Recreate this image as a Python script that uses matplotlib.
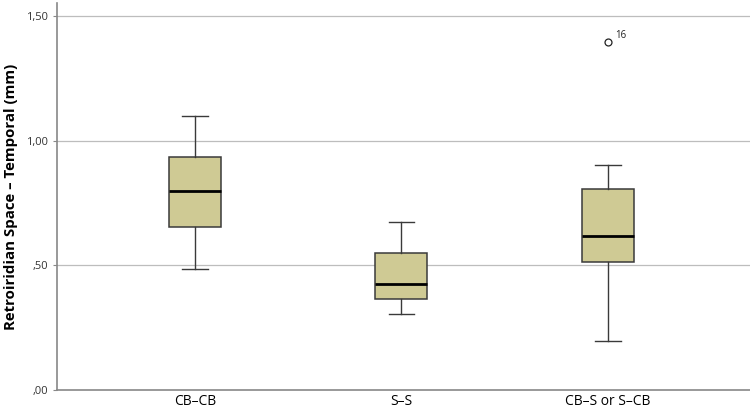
import matplotlib.pyplot as plt

plt.rcParams['font.family'] = ['Open Sans', 'DejaVu Sans']

groups = ['CB\u2013CB', 'S\u2013S', 'CB\u2013S or S\u2013CB']
medians = [0.80, 0.425, 0.618]
q1 = [0.653, 0.364, 0.512]
q3 = [0.936, 0.548, 0.806]
whisk_lo = [0.485, 0.305, 0.198]
whisk_hi = [1.100, 0.673, 0.903]
outliers = [[], [], [1.396]]
outlier_ids = [[], [], ['16']]

y_ticks = [0.0, 0.5, 1.0, 1.5]
y_tick_labels = [',00', ',50', '1,00', '1,50']

stats = []
for i in range(len(groups)):
    stats.append({'med': medians[i], 'q1': q1[i], 'q3': q3[i],
                  'whislo': whisk_lo[i], 'whishi': whisk_hi[i],
                  'fliers': outliers[i], 'label': groups[i]})

fig = plt.figure(figsize=(7.5, 4.13), dpi=100)
ax = fig.add_axes([0.076, 0.0557, 0.924, 0.937])

ax.bxp(stats, positions=[1, 2, 3], widths=0.252, patch_artist=True,
       boxprops=dict(facecolor='#CFCA94', edgecolor='#3a3a3a', linewidth=1.1),
       medianprops=dict(color='black', linewidth=2),
       whiskerprops=dict(color='#3a3a3a', linewidth=1),
       capprops=dict(color='#3a3a3a', linewidth=1),
       capwidths=0.123,
       flierprops=dict(marker='o', markerfacecolor='white', markeredgecolor='#222222',
                       markersize=5, markeredgewidth=0.9))

for i, ids in enumerate(outlier_ids):
    for val, lab in zip(outliers[i], ids):
        ax.annotate(lab, (i + 1, val), xytext=(5, 3), textcoords='offset points',
                    fontsize=7, color='#222222')

for y in y_ticks[1:]:
    ax.axhline(y, color='#bdbdbd', linewidth=0.9, zorder=0)

ax.set_xlim(0.332, 3.688)
ax.set_ylim(0, 1.552)
ax.set_yticks(y_ticks)
ax.set_yticklabels(y_tick_labels, fontsize=8, color='#333333')
ax.tick_params(axis='y', length=3, color='#888888')
ax.tick_params(axis='x', length=0, labelsize=10, pad=3)
ax.set_ylabel('Retroiridian Space \u2013 Temporal (mm)', fontsize=10.8,
              fontweight='bold', labelpad=6)

for s in ['top', 'right']:
    ax.spines[s].set_visible(False)
for s in ['left', 'bottom']:
    ax.spines[s].set_color('#888888')
    ax.spines[s].set_linewidth(1.2)

fig.savefig('out.png', dpi=100)
